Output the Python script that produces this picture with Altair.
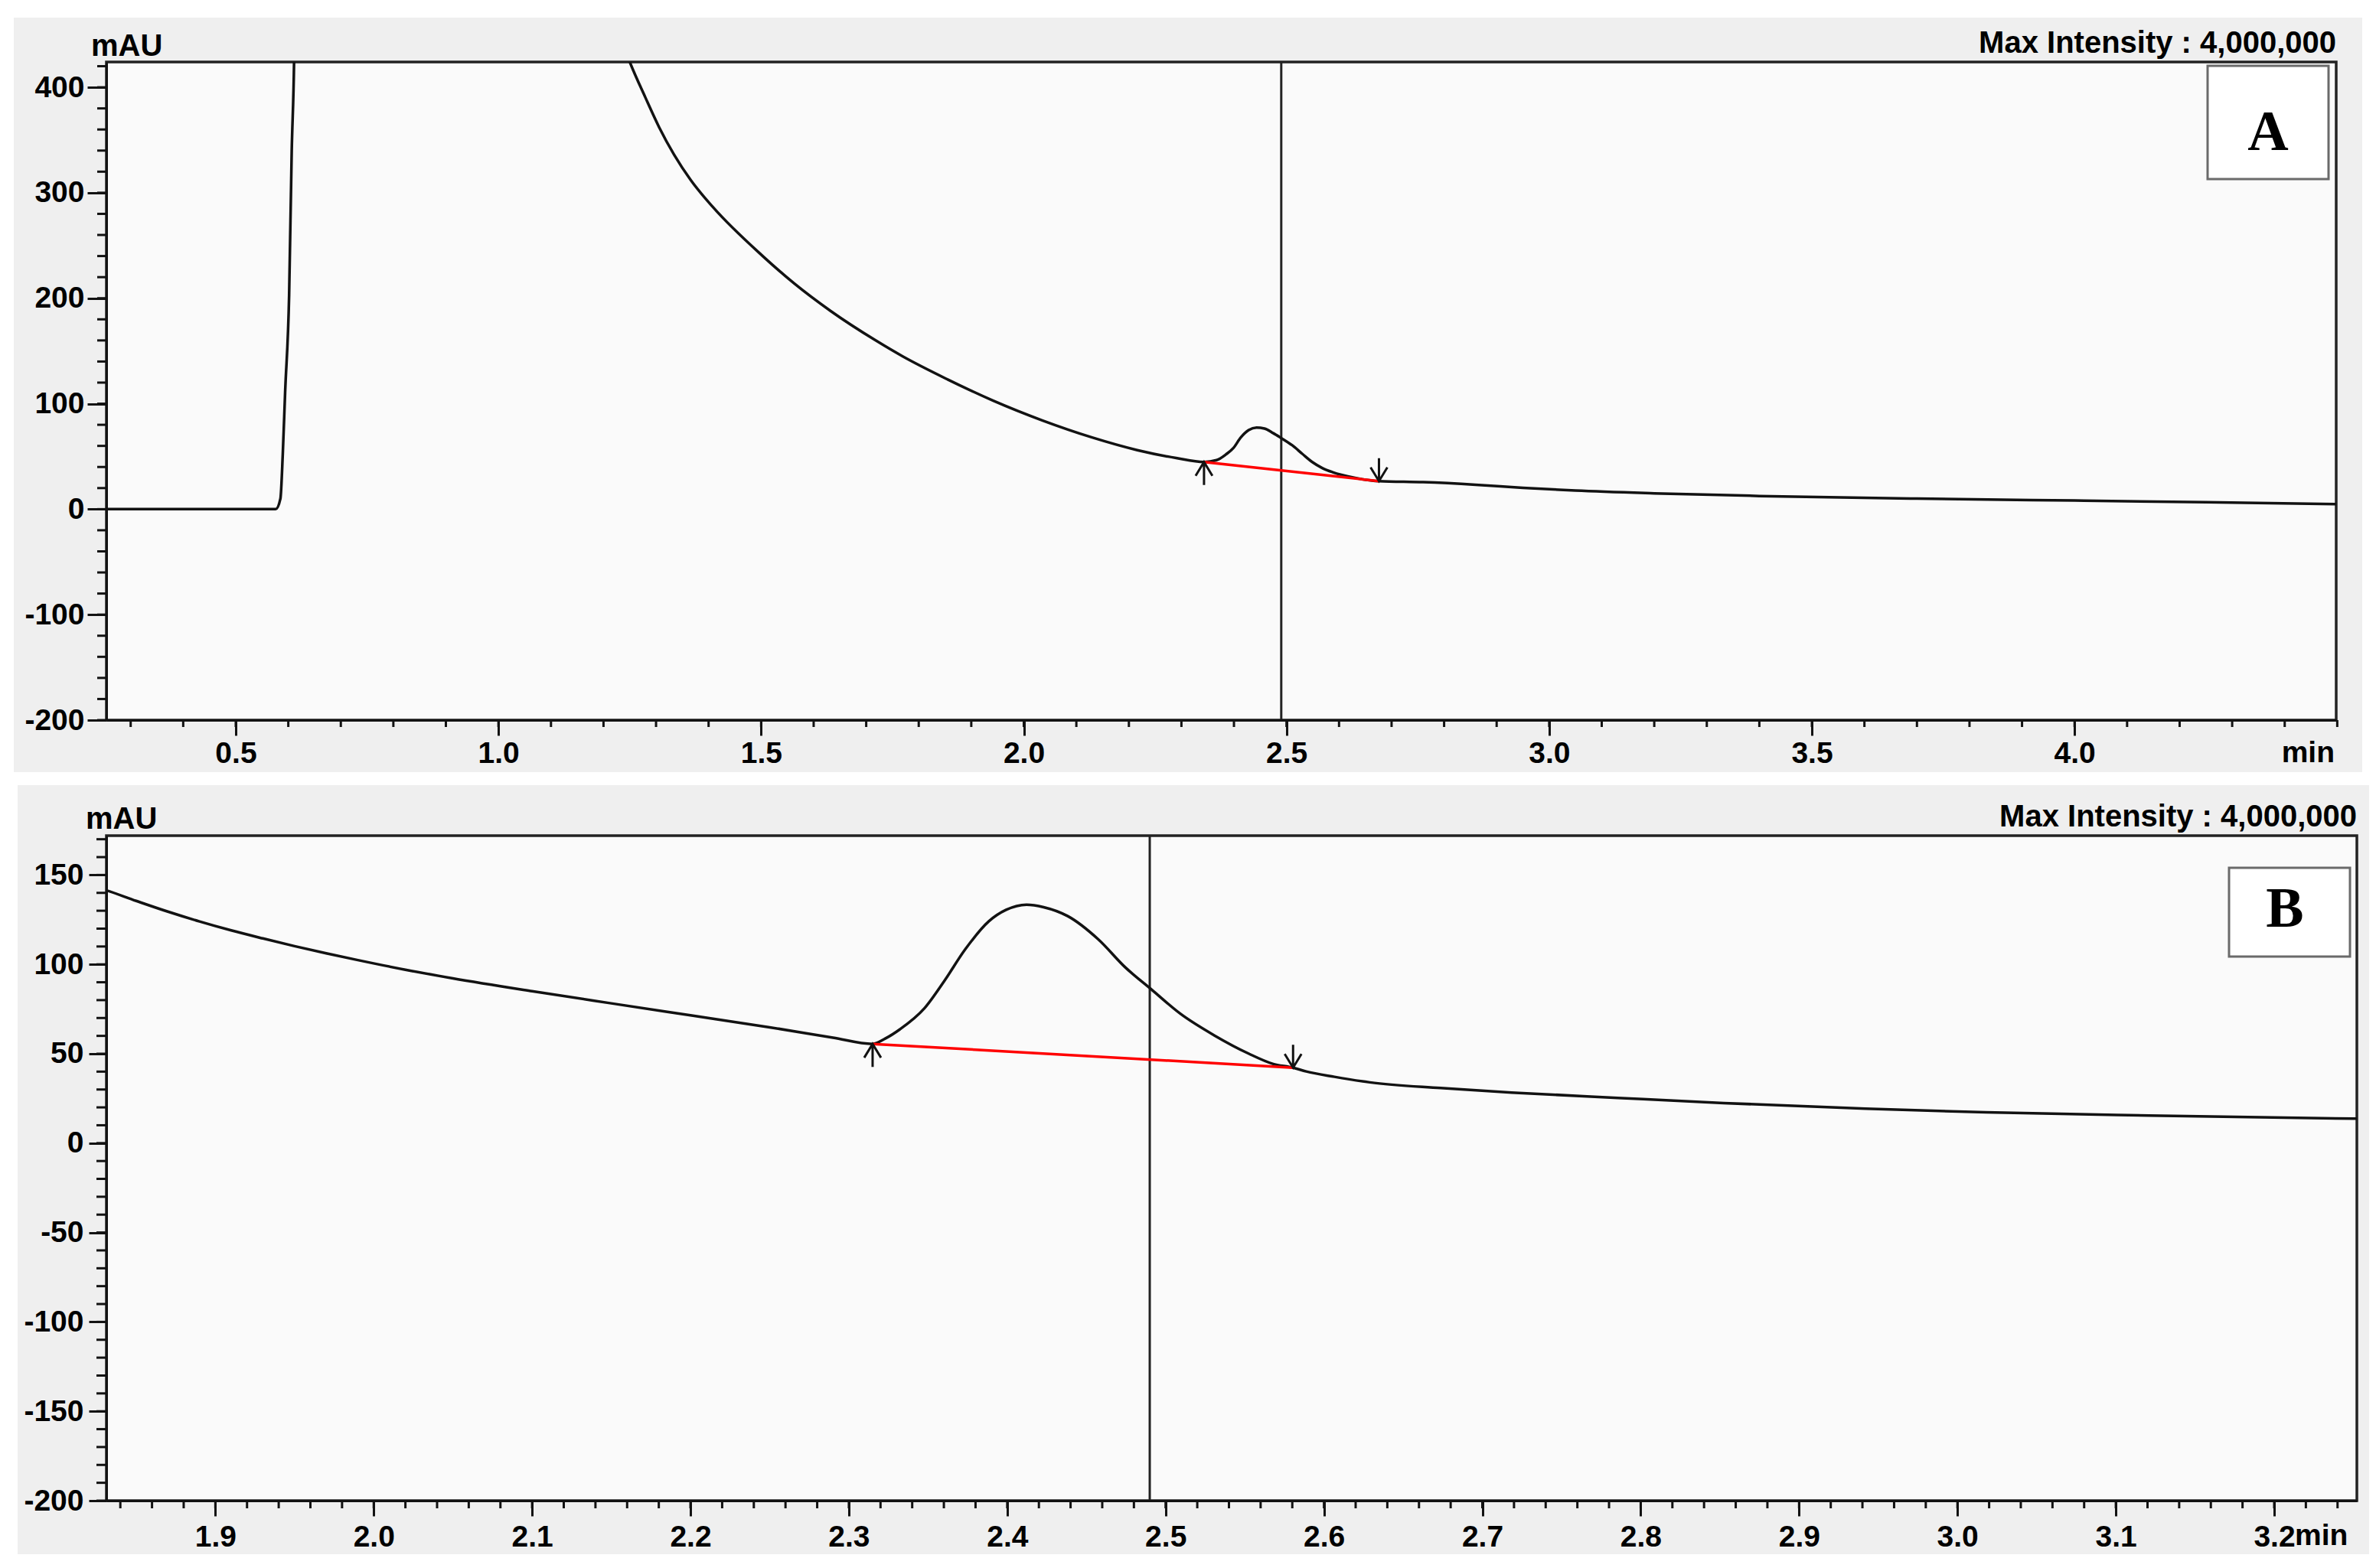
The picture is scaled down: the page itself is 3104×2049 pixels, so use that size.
import altair as alt
import pandas as pd

# ---------------- Panel A data ----------------
A_t = [0.25, 0.576, 0.585, 0.5895, 0.594, 0.6016, 0.6065, 0.611, 0.615, 0.62, 1.10, 1.17, 1.22,
       1.250, 1.280, 1.306, 1.366, 1.409, 1.503, 1.563, 1.632, 1.718, 1.769, 1.855, 1.941,
       2.036, 2.130, 2.216, 2.290, 2.343, 2.367, 2.385, 2.399, 2.413, 2.428, 2.443, 2.458,
       2.475, 2.489, 2.511, 2.530, 2.549, 2.568, 2.588, 2.627, 2.676, 2.760, 2.860, 2.950,
       3.050, 3.200, 3.400, 3.700, 4.000, 4.250, 4.500]
A_v = [0, 0, 10, 52, 111, 203, 339, 424, 600, 2000, 2000, 560, 465,
       424, 390, 362, 312, 286, 240, 214, 188, 160, 145, 123, 103,
       84, 68, 56, 48.5, 44.7, 46.5, 52, 58, 68, 75, 77.4, 76.5,
       72, 67.7, 60.5, 52.5, 44.7, 39, 35, 30, 26.6, 25.6, 23.2, 20.2,
       17.6, 15.0, 12.5, 10.0, 8.2, 6.6, 4.8]
A_base_t = [2.343, 2.676]
A_base_v = [44.7, 26.6]
A_marker = [2.49]
A_xticks = [0.5, 1.0, 1.5, 2.0, 2.5, 3.0, 3.5, 4.0]
A_yticks = [-200, -100, 0, 100, 200, 300, 400]
A_xminor = [round(0.3 + 0.1 * i, 2) for i in range(43)]
A_yminor = list(range(-200, 421, 20))
A_xdomain = [0.2538, 4.498]
A_ydomain = [-200, 424]

# ---------------- Panel B data ----------------
B_t = [1.825, 1.829, 1.850, 1.870, 1.890, 1.910, 1.930, 1.950, 1.970, 1.990, 2.020,
       2.050, 2.100, 2.150, 2.200, 2.250, 2.290, 2.315, 2.323, 2.3323, 2.3476,
       2.3605, 2.3734, 2.3884, 2.3993, 2.4122, 2.423, 2.4382, 2.4575, 2.4747, 2.491, 2.5093,
       2.5309, 2.5524, 2.5676, 2.5805, 2.5888, 2.6066, 2.629, 2.6737, 2.7185, 2.7855, 2.8525,
       2.942, 3.018, 3.121, 3.2505, 3.26]
B_v = [143, 142, 135.5, 129.5, 124, 119, 114.5, 110.2, 106.2, 102.4, 97,
       92.2, 85, 78.2, 71.5, 64.8, 59, 55.5, 58.5, 63.7, 75.3,
       91, 108.3, 124.1, 130.5, 133.4, 132, 127, 114, 98.2, 86, 72.4,
       60.2, 50.1, 44.4, 42.2, 40.1, 37.1, 34, 30.8, 28.3, 25.3, 22.4,
       19.3, 17.2, 15.4, 13.7, 13.6]
B_base_t = [2.315, 2.5805]
B_base_v = [55.5, 42.2]
B_marker = [2.49]
B_xticks = [1.9, 2.0, 2.1, 2.2, 2.3, 2.4, 2.5, 2.6, 2.7, 2.8, 2.9, 3.0, 3.1, 3.2]
B_yticks = [-200, -150, -100, -50, 0, 50, 100, 150]
B_xminor = [round(1.84 + 0.02 * i, 2) for i in range(71)]
B_yminor = list(range(-200, 171, 10))
B_xdomain = [1.8312, 3.2522]
B_ydomain = [-200, 172]

MAX_TEXT = "Max Intensity : 4,000,000"
UP = "M0,0L0,2M-0.73,1.2L0,0L0.73,1.2"
DOWN = "M0,0L0,-2M-0.73,-1.2L0,0L0.73,-1.2"
FONT = "Liberation Sans"
INK = "#121212"


def panel(t, v, bt, bv, marker, xticks, yticks, xminor, yminor, xdom, ydom,
          W, H, gray, box, letter, letter_pos, mau_pos, max_y,
          xtick, xminor_len, xpad, ytick, yminor_len, ypad, min_spec):
    xs = alt.Scale(domain=xdom, nice=False, zero=False)
    ys = alt.Scale(domain=ydom, nice=False, zero=False)
    one = pd.DataFrame({"k": [0]})
    df = pd.DataFrame({"t": t, "v": v, "i": list(range(len(t)))})

    axis_common = dict(title=None, zindex=1, domainColor=INK, domainWidth=3,
                       tickColor=INK, tickWidth=3, labelFont=FONT,
                       labelFontWeight="bold", labelFontSize=39, labelColor="#000",
                       grid=False, labelFlush=False, labelOverlap=False)

    bg = alt.Chart(one).mark_rect(fill="#efefef", strokeWidth=0).encode(
        x=alt.value(gray[0]), x2=alt.value(gray[1]),
        y=alt.value(gray[2]), y2=alt.value(gray[3]))
    plot_bg = alt.Chart(one).mark_rect(fill="#fafafa", stroke="#222", strokeWidth=3.5).encode(
        x=alt.value(0), x2=alt.value(W), y=alt.value(0), y2=alt.value(H))

    ymin = alt.Chart(pd.DataFrame({"v": yminor})).mark_rule(color=INK, strokeWidth=3).encode(
        y=alt.Y("v:Q", scale=ys),
        x=alt.value(-yminor_len), x2=alt.value(0))
    xmin = alt.Chart(pd.DataFrame({"t": xminor})).mark_rule(color=INK, strokeWidth=3).encode(
        x=alt.X("t:Q", scale=xs),
        y=alt.value(H), y2=alt.value(H + xminor_len))

    rule = alt.Chart(pd.DataFrame({"t": marker})).mark_rule(color="#222", strokeWidth=3).encode(
        x=alt.X("t:Q", scale=xs))

    line = alt.Chart(df).mark_line(color=INK, strokeWidth=3.5, clip=True,
                                   interpolate="monotone").encode(
        x=alt.X("t:Q", scale=xs),
        y=alt.Y("v:Q", scale=ys),
        order="i:Q")

    base = alt.Chart(pd.DataFrame({"t": bt, "v": bv})).mark_line(
        color="#ff0000", strokeWidth=3.5).encode(
        x=alt.X("t:Q", scale=xs), y=alt.Y("v:Q", scale=ys))

    up = alt.Chart(pd.DataFrame({"t": [bt[0]], "v": [bv[0]]})).mark_point(
        shape=UP, size=900, filled=False, stroke=INK, strokeWidth=3, opacity=1).encode(
        x=alt.X("t:Q", scale=xs), y=alt.Y("v:Q", scale=ys))
    down = alt.Chart(pd.DataFrame({"t": [bt[1]], "v": [bv[1]]})).mark_point(
        shape=DOWN, size=900, filled=False, stroke=INK, strokeWidth=3, opacity=1).encode(
        x=alt.X("t:Q", scale=xs), y=alt.Y("v:Q", scale=ys))

    boxm = alt.Chart(one).mark_rect(fill="white", stroke="#6a6a6a", strokeWidth=3).encode(
        x=alt.value(box[0]), x2=alt.value(box[1]), y=alt.value(box[2]), y2=alt.value(box[3]))
    let = alt.Chart(one).mark_text(text=letter, font="Liberation Serif", fontWeight="bold",
                                   fontSize=74, align="center", baseline="alphabetic",
                                   color="#000").encode(
        x=alt.value(letter_pos[0]), y=alt.value(letter_pos[1]))

    mau = alt.Chart(one).mark_text(text="mAU", font=FONT, fontWeight="bold", fontSize=40,
                                   align="left", baseline="alphabetic", color="#000").encode(
        x=alt.value(mau_pos[0]), y=alt.value(mau_pos[1]))
    maxi = alt.Chart(one).mark_text(text=MAX_TEXT, font=FONT, fontWeight="bold", fontSize=40,
                                    align="right", baseline="alphabetic", color="#000").encode(
        x=alt.value(W), y=alt.value(max_y))

    if min_spec[0] == "data":
        mn = alt.Chart(pd.DataFrame({"t": [min_spec[1]]})).mark_text(
            text="min", font=FONT, fontWeight="bold", fontSize=39, align="left",
            baseline="alphabetic", dx=min_spec[2], color="#000").encode(
            x=alt.X("t:Q", scale=xs), y=alt.value(min_spec[3]))
    else:
        mn = alt.Chart(one).mark_text(
            text="min", font=FONT, fontWeight="bold", fontSize=39, align="right",
            baseline="alphabetic", color="#000").encode(
            x=alt.value(min_spec[1]), y=alt.value(min_spec[3]))

    # the axes are carried by one invisible layer (domain corners) so they are defined once
    corners = pd.DataFrame({"t": xdom, "v": ydom})
    axes = alt.Chart(corners).mark_point(opacity=0, size=1).encode(
        x=alt.X("t:Q", scale=xs, axis=alt.Axis(
            values=xticks, tickSize=xtick, labelPadding=xpad,
            labelExpr="format(datum.value, '.1f')", **axis_common)),
        y=alt.Y("v:Q", scale=ys, axis=alt.Axis(
            values=yticks, tickSize=ytick, labelPadding=ypad,
            labelExpr="toString(datum.value)", **axis_common)))

    return alt.layer(axes, bg, plot_bg, ymin, xmin, rule, line, base, up, down,
                     boxm, let, mau, maxi, mn).properties(width=W, height=H)


WA, HA = 2913, 860
WB, HB = 2940, 869

panelA = panel(A_t, A_v, A_base_t, A_base_v, A_marker, A_xticks, A_yticks, A_xminor, A_yminor,
               A_xdomain, A_ydomain, WA, HA,
               gray=(-121, 2947, -58, 928), box=(2745, 2903, 5, 153), letter="A",
               letter_pos=(2824, 115), mau_pos=(-20, -8), max_y=-12,
               xtick=20, xminor_len=9, xpad=4, ytick=25, yminor_len=12, ypad=4,
               min_spec=("pixel", 2911, 0, 915))

panelB = panel(B_t, B_v, B_base_t, B_base_v, B_marker, B_xticks, B_yticks, B_xminor, B_yminor,
               B_xdomain, B_ydomain, WB, HB,
               gray=(-116, 2956, -66, 939), box=(2773, 2931, 42, 158), letter="B",
               letter_pos=(2846, 119), mau_pos=(-27, -9), max_y=-12,
               xtick=20, xminor_len=10, xpad=8, ytick=23, yminor_len=13, ypad=7,
               min_spec=("data", 3.2, 27, 927))

chart = alt.vconcat(panelA, panelB, spacing=15).properties(
    padding={"left": 9, "top": 14, "right": 0, "bottom": 0},
    background="white",
).configure_view(stroke="transparent")

chart.save("out.html", embed_options={"renderer": "svg", "actions": False})
